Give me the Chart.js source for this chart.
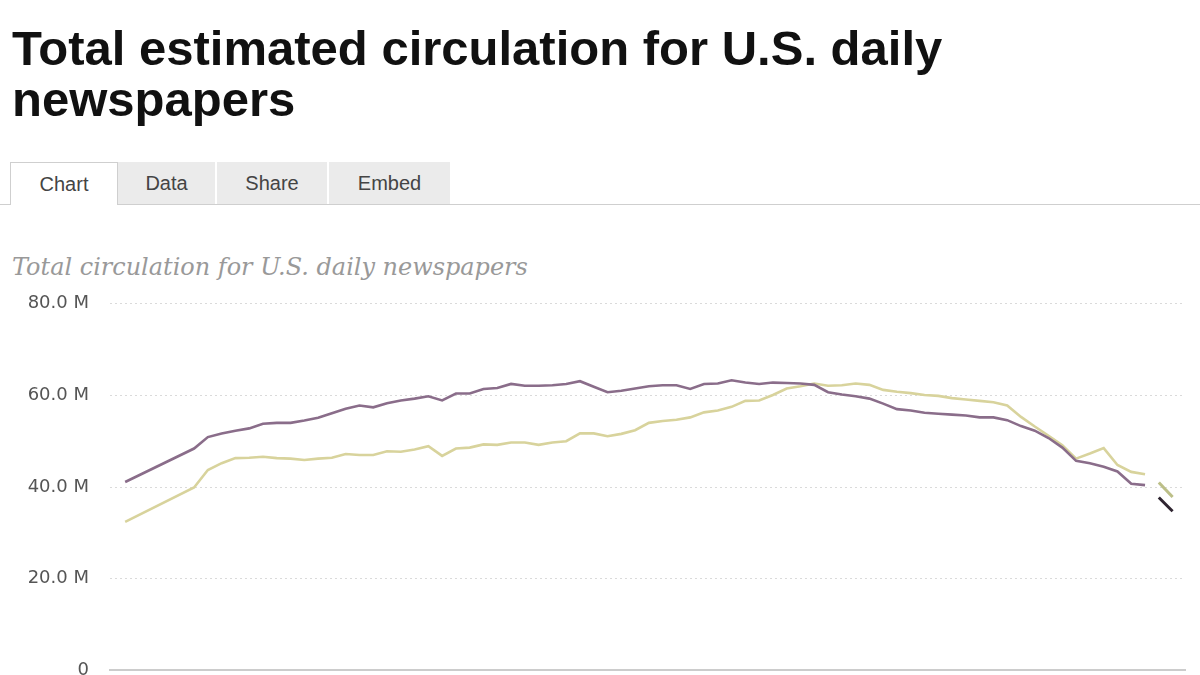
<!DOCTYPE html>
<html>
<head>
<meta charset="utf-8">
<title>Total estimated circulation for U.S. daily newspapers</title>
<script src="https://cdn.jsdelivr.net/npm/chart.js@4.4.0/dist/chart.umd.min.js"></script>
<style>
    body {
        margin: 0;
        width: 1200px;
        height: 675px;
        background: #fff;
        overflow: hidden;
        position: relative;
    }
    .title {
        position: absolute;
        left: 12px;
        top: 23px;
        margin: 0;
        font-family: "Liberation Sans", Arial, sans-serif;
        font-weight: bold;
        font-size: 49px;
        line-height: 51px;
        color: #111;
        width: 1000px;
    }
    .tabs {
        position: absolute;
        left: 0;
        top: 162px;
        width: 1200px;
        height: 42px;
        border-bottom: 1px solid #cfcfcf;
    }
    .tab {
        position: absolute;
        top: 0;
        height: 42px;
        background: #ebebeb;
        font-family: "Liberation Sans", Arial, sans-serif;
        font-size: 20px;
        color: #444;
        text-align: center;
        line-height: 42px;
    }
    .tab.active {
        background: #fff;
        border: 1px solid #cfcfcf;
        border-bottom: none;
        height: 42px;
        top: 0;
    }
    .subtitle {
        position: absolute;
        left: 12px;
        top: 253px;
        font-family: "DejaVu Serif", Georgia, serif;
        font-style: italic;
        font-size: 19px;
        color: #999;
        white-space: nowrap;
    }
    .chart-box {
        position: absolute;
        left: 0;
        top: 272px;
        width: 1200px;
        height: 430px;
    }
</style>
</head>
<body>
<h1 class="title">Total estimated circulation for U.S. daily<br>newspapers</h1>
<div class="tabs">
    <div class="tab active" style="left:10px;width:106px;">Chart</div>
    <div class="tab" style="left:118px;width:97px;">Data</div>
    <div class="tab" style="left:217px;width:110px;">Share</div>
    <div class="tab" style="left:329px;width:121px;">Embed</div>
</div>
<div class="subtitle" id="subtitle">Total circulation for U.S. daily newspapers</div>
<div class="chart-box"><canvas id="circulationChart" width="1200" height="430"></canvas></div>

<script>
// values in millions (no points drawn for 1941-1944)
const years = [1940, 1945, 1946, 1947, 1948, 1949, 1950, 1951, 1952, 1953, 1954,
    1955, 1956, 1957, 1958, 1959, 1960, 1961, 1962, 1963, 1964, 1965, 1966, 1967,
    1968, 1969, 1970, 1971, 1972, 1973, 1974, 1975, 1976, 1977, 1978, 1979, 1980,
    1981, 1982, 1983, 1984, 1985, 1986, 1987, 1988, 1989, 1990, 1991, 1992, 1993,
    1994, 1995, 1996, 1997, 1998, 1999, 2000, 2001, 2002, 2003, 2004, 2005, 2006,
    2007, 2008, 2009, 2010, 2011, 2012, 2013, 2014];

const weekday = [41.1, 48.4, 50.9, 51.7, 52.3, 52.8, 53.8, 54.0, 54.0, 54.5, 55.1,
    56.1, 57.1, 57.8, 57.4, 58.3, 58.9, 59.3, 59.8, 58.9, 60.4, 60.4, 61.4, 61.6,
    62.5, 62.1, 62.1, 62.2, 62.5, 63.1, 61.9, 60.7, 61.0, 61.5, 62.0, 62.2, 62.2,
    61.4, 62.5, 62.6, 63.3, 62.8, 62.5, 62.8, 62.7, 62.6, 62.3, 60.7, 60.2, 59.8,
    59.3, 58.2, 57.0, 56.7, 56.2, 56.0, 55.8, 55.6, 55.2, 55.2, 54.6, 53.3, 52.3,
    50.7, 48.6, 45.7, 45.2, 44.4, 43.4, 40.7, 40.4];

const sunday = [32.4, 39.9, 43.7, 45.2, 46.3, 46.4, 46.6, 46.3, 46.2, 45.9, 46.2,
    46.4, 47.2, 47.0, 47.0, 47.8, 47.7, 48.2, 48.9, 46.8, 48.4, 48.6, 49.3, 49.2,
    49.7, 49.7, 49.2, 49.7, 50.0, 51.7, 51.7, 51.1, 51.6, 52.4, 54.0, 54.4, 54.7,
    55.2, 56.3, 56.7, 57.5, 58.8, 58.9, 60.1, 61.5, 62.0, 62.6, 62.1, 62.2, 62.6,
    62.3, 61.2, 60.8, 60.5, 60.1, 59.9, 59.4, 59.1, 58.8, 58.5, 57.8, 55.3, 53.2,
    51.2, 49.1, 46.2, 47.3, 48.5, 44.8, 43.3, 42.8];

// later estimates, drawn as separate segments
const newYears = [2015, 2016];
const weekdayNew = [37.7, 34.7];
const sundayNew = [41.0, 37.8];

const yTicks = [0, 20, 40, 60, 80];

function toPoints(xs, ys) {
    return xs.map((x, i) => ({ x: x, y: ys[i] }));
}

function fitWidth(el, target) {
    var size = parseFloat(getComputedStyle(el).fontSize);
    var w = el.getBoundingClientRect().width;
    el.style.fontSize = (size * target / w).toFixed(2) + 'px';
}

function formatTick(value) {
    if (value === 0) return '0';
    return value.toFixed(1) + ' M';
}

function createCirculationChart(ctx) {
    return new Chart(ctx, {
        type: 'line',
        data: {
            datasets: [
                {
                    label: 'Weekday',
                    data: toPoints(years, weekday),
                    borderColor: '#8a6d8a',
                    borderWidth: 2.6
                },
                {
                    label: 'Sunday',
                    data: toPoints(years, sunday),
                    borderColor: '#d8d39c',
                    borderWidth: 2.6
                },
                {
                    label: 'Weekday (new estimate)',
                    data: toPoints(newYears, weekdayNew),
                    borderColor: '#2f2531',
                    borderWidth: 3
                },
                {
                    label: 'Sunday (new estimate)',
                    data: toPoints(newYears, sundayNew),
                    borderColor: '#bcbf88',
                    borderWidth: 3
                }
            ]
        },
        options: {
            responsive: false,
            animation: false,
            layout: {
                padding: { top: 18, right: 15, bottom: 5, left: 0 }
            },
            elements: {
                point: { radius: 0, hoverRadius: 0 },
                line: { tension: 0, borderCapStyle: 'butt' }
            },
            plugins: {
                legend: { display: false },
                tooltip: { enabled: false }
            },
            scales: {
                x: {
                    type: 'linear',
                    min: 1938.9,
                    max: 2016.9,
                    ticks: { display: false },
                    grid: { display: false, drawTicks: false },
                    border: { display: true, color: '#cccccc', width: 2 },
                    afterFit: function (scale) { scale.height = 0; }
                },
                y: {
                    min: 0,
                    max: 80,
                    afterBuildTicks: function (scale) {
                        scale.ticks = yTicks.map(v => ({ value: v }));
                    },
                    ticks: {
                        padding: 21,
                        color: '#555',
                        font: { family: '"DejaVu Sans", sans-serif', size: 18 },
                        callback: formatTick
                    },
                    grid: {
                        drawTicks: false,
                        lineWidth: 1,
                        color: function (c) {
                            return c.tick && c.tick.value === 0 ? 'rgba(0,0,0,0)' : '#dadada';
                        }
                    },
                    border: { display: false, dash: [2, 3] },
                    afterFit: function (scale) { scale.width = 110; }
                }
            }
        }
    });
}

fitWidth(document.getElementById('subtitle'), 516);
createCirculationChart(document.getElementById('circulationChart').getContext('2d'));
</script>
</body>
</html>
